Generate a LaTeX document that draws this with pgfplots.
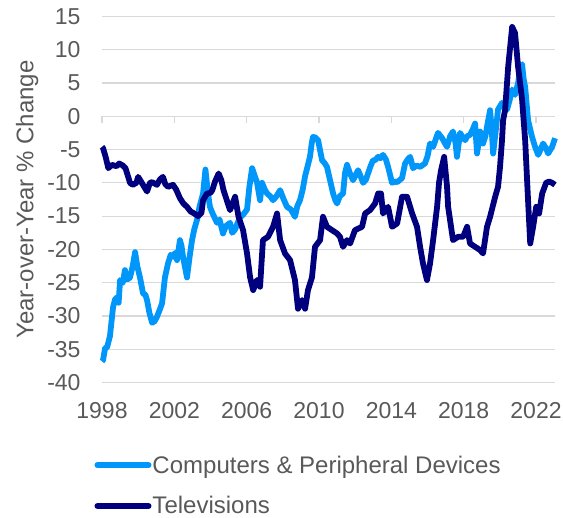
\documentclass[border=0pt]{standalone}
\usepackage{pgfplots}
\pgfplotsset{compat=1.18}
\usepackage{fontspec}
\setmainfont{Liberation Sans}
\definecolor{compblue}{HTML}{0096FA}
\definecolor{tvnavy}{HTML}{00007E}
\definecolor{gridgray}{HTML}{D9D9D9}
\definecolor{textgray}{HTML}{595959}
\newcommand{\chartfont}{\fontsize{23}{27.6}\selectfont}
\newcommand{\legfont}{\fontsize{24}{28.8}\selectfont}
\begin{document}
\begin{tikzpicture}
\useasboundingbox (0,0) rectangle (563pt,518pt);
\begin{axis}[
  at={(102pt,135.3pt)}, anchor=south west,
  scale only axis, width=453pt, height=366.4pt,
  xmin=1998, xmax=2023.05, ymin=-40, ymax=15,
  clip=false,
  axis line style={draw=none},
  major tick length=0pt,
  xtick={1998,2002,2006,2010,2014,2018,2022},
  xticklabels={1998,2002,2006,2010,2014,2018,2022},
  ytick={-40,-35,-30,-25,-20,-15,-10,-5,0,5,10,15},
  yticklabels={-40,-35,-30,-25,-20,-15,-10,-5,0,5,10,15},
  ymajorgrids, grid style={gridgray, line width=1.3pt},
  yticklabel style={font=\chartfont, text=textgray, inner sep=0pt, anchor=east, xshift=-21.3pt},
  xticklabel style={font=\chartfont, text=textgray, inner sep=0pt, anchor=north, yshift=-20pt},
  ylabel={Year-over-Year \% Change},
  every axis y label/.style={at={(axis description cs:0,0.5)}, xshift=-68.5pt, rotate=90, anchor=base, font=\legfont, text=textgray, inner sep=0pt},
  legend cell align=left,
  legend image code/.code={\draw[#1, line cap=round, line width=6pt] (0pt,0pt) -- (51pt,0pt);},
  legend style={draw=none, fill=none, inner sep=0pt, outer sep=0pt,
    at={(axis description cs:0,0)}, anchor=north west, xshift=-7.5pt, yshift=-73pt,
    row sep=22pt, column sep=1pt,
    nodes={inner sep=0pt, font=\legfont, text=textgray}},
]
\addplot[compblue, line width=5.8pt, line join=round] table {
1998.00 -36.8
1998.06 -36.6
1998.17 -34.8
1998.28 -34.7
1998.44 -33.0
1998.61 -28.7
1998.72 -27.5
1998.83 -27.2
1998.92 -28.0
1999.00 -24.6
1999.15 -25.0
1999.27 -23.1
1999.40 -24.5
1999.55 -24.2
1999.70 -22.5
1999.83 -20.4
1999.95 -22.5
2000.10 -24.2
2000.27 -26.6
2000.40 -26.8
2000.49 -27.6
2000.62 -29.5
2000.77 -31.0
2000.90 -30.8
2001.04 -30.1
2001.20 -29.0
2001.32 -28.1
2001.48 -24.2
2001.65 -22.1
2001.80 -20.8
2001.93 -21.1
2002.05 -20.5
2002.15 -21.6
2002.31 -18.6
2002.40 -19.5
2002.48 -21.1
2002.70 -24.2
2002.85 -21.0
2002.98 -18.6
2003.10 -17.0
2003.25 -15.6
2003.40 -13.5
2003.59 -11.6
2003.72 -8.0
2003.86 -11.6
2003.97 -13.6
2004.10 -14.5
2004.36 -16.0
2004.50 -15.5
2004.69 -17.6
2004.85 -16.5
2005.08 -16.0
2005.20 -17.5
2005.36 -17.0
2005.50 -16.0
2005.63 -15.2
2005.80 -14.8
2006.02 -14.0
2006.15 -10.6
2006.30 -7.8
2006.45 -9.0
2006.57 -9.9
2006.74 -12.6
2006.85 -10.0
2007.00 -11.0
2007.13 -11.6
2007.30 -12.0
2007.46 -12.6
2007.65 -12.0
2007.85 -11.1
2008.05 -12.5
2008.23 -13.6
2008.45 -14.0
2008.67 -15.1
2008.80 -13.5
2008.95 -12.6
2009.10 -11.0
2009.23 -9.0
2009.37 -7.5
2009.50 -6.1
2009.60 -4.0
2009.67 -3.1
2009.80 -3.2
2009.95 -3.6
2010.05 -5.0
2010.17 -6.6
2010.30 -7.0
2010.44 -7.6
2010.61 -9.6
2010.78 -11.6
2010.90 -12.6
2011.00 -13.1
2011.15 -12.0
2011.33 -11.6
2011.44 -8.5
2011.55 -7.3
2011.70 -8.5
2011.88 -9.6
2012.00 -9.0
2012.16 -8.1
2012.30 -9.0
2012.44 -10.0
2012.60 -9.5
2012.71 -8.6
2012.85 -7.5
2012.99 -6.6
2013.10 -6.6
2013.27 -6.1
2013.40 -6.3
2013.54 -5.8
2013.70 -6.5
2013.82 -7.6
2014.04 -10.0
2014.20 -9.8
2014.32 -9.9
2014.45 -9.6
2014.59 -9.3
2014.76 -7.1
2014.90 -6.5
2015.04 -6.1
2015.20 -7.8
2015.40 -7.4
2015.59 -7.6
2015.75 -7.3
2015.86 -7.1
2016.00 -6.0
2016.14 -4.1
2016.31 -4.6
2016.45 -3.5
2016.58 -2.5
2016.81 -3.3
2016.95 -4.0
2017.08 -4.6
2017.25 -3.0
2017.41 -2.3
2017.55 -4.0
2017.63 -6.1
2017.80 -2.5
2017.95 -3.2
2018.08 -3.6
2018.20 -3.0
2018.35 -2.8
2018.50 -2.0
2018.63 -1.1
2018.74 -5.6
2018.91 -2.3
2019.07 -4.1
2019.20 -3.0
2019.29 -1.6
2019.46 0.9
2019.55 -2.0
2019.63 -5.6
2019.78 -2.0
2019.90 1.0
2020.12 2.0
2020.25 1.5
2020.40 1.0
2020.55 2.5
2020.68 4.0
2020.84 3.2
2021.01 5.0
2021.15 7.5
2021.23 7.8
2021.32 5.5
2021.40 4.4
2021.56 -0.6
2021.78 -3.1
2021.95 -4.6
2022.12 -5.8
2022.25 -5.0
2022.39 -4.1
2022.55 -4.8
2022.67 -5.6
2022.89 -4.6
2023.05 -3.3
};
\addlegendentry{Computers \& Peripheral Devices}
\addplot[tvnavy, line width=5.8pt, line join=round] table {
1998.00 -4.6
1998.06 -4.8
1998.20 -6.1
1998.35 -7.8
1998.55 -7.3
1998.80 -7.5
1998.95 -7.1
1999.15 -7.4
1999.30 -7.8
1999.55 -10.0
1999.70 -10.3
1999.90 -10.0
2000.00 -9.1
2000.20 -10.0
2000.49 -11.3
2000.65 -10.0
2000.77 -9.9
2001.04 -10.3
2001.20 -9.5
2001.37 -9.1
2001.50 -10.2
2001.65 -10.6
2001.93 -10.3
2002.10 -11.0
2002.31 -12.3
2002.50 -13.1
2002.70 -13.6
2002.90 -14.3
2003.10 -14.6
2003.31 -15.0
2003.50 -14.5
2003.59 -12.6
2003.81 -11.6
2004.00 -11.5
2004.10 -11.1
2004.25 -9.8
2004.45 -8.6
2004.60 -9.6
2004.72 -11.1
2004.90 -12.6
2005.08 -14.1
2005.36 -12.1
2005.55 -15.1
2005.80 -17.1
2006.02 -20.6
2006.19 -24.2
2006.36 -26.1
2006.57 -24.6
2006.74 -25.6
2006.90 -18.6
2007.18 -18.1
2007.46 -16.6
2007.68 -14.6
2007.85 -18.6
2008.12 -20.6
2008.40 -21.6
2008.67 -24.6
2008.84 -28.9
2009.06 -27.6
2009.23 -28.9
2009.39 -26.1
2009.61 -24.2
2009.78 -19.6
2010.06 -18.6
2010.22 -15.1
2010.44 -16.6
2010.72 -17.1
2011.00 -17.6
2011.16 -18.1
2011.33 -19.6
2011.55 -18.6
2011.72 -19.1
2011.99 -17.1
2012.38 -16.6
2012.55 -14.6
2012.82 -14.1
2013.10 -13.1
2013.27 -11.6
2013.43 -11.6
2013.54 -14.6
2013.82 -13.6
2014.04 -16.6
2014.32 -16.1
2014.59 -12.1
2014.87 -12.1
2015.15 -14.6
2015.42 -16.6
2015.59 -19.6
2015.75 -22.1
2015.97 -24.6
2016.14 -22.1
2016.31 -18.6
2016.53 -13.6
2016.64 -9.9
2016.75 -8.1
2016.92 -6.1
2017.08 -10.6
2017.14 -13.6
2017.41 -18.6
2017.69 -18.1
2017.97 -18.1
2018.19 -16.6
2018.35 -19.1
2018.63 -19.6
2018.91 -20.1
2019.07 -20.6
2019.29 -16.6
2019.46 -15.1
2019.74 -12.1
2019.90 -10.6
2020.01 -7.6
2020.12 -3.6
2020.18 -0.6
2020.29 0.9
2020.46 7.4
2020.68 13.4
2020.84 12.5
2021.01 7.4
2021.23 2.5
2021.40 -3.6
2021.56 -12.6
2021.68 -19.1
2021.84 -16.6
2022.01 -13.6
2022.17 -14.6
2022.34 -11.6
2022.56 -10.0
2022.72 -9.8
2022.89 -10.0
2023.05 -10.3
};
\addlegendentry{Televisions}
\pgfplotsinvokeforeach{1998,2002,2006,2010,2014,2018,2022}{
  \draw[gridgray, line width=1.3pt] (axis cs:#1,0) -- ++(0pt,-7pt);
}
\end{axis}
\end{tikzpicture}
\end{document}
